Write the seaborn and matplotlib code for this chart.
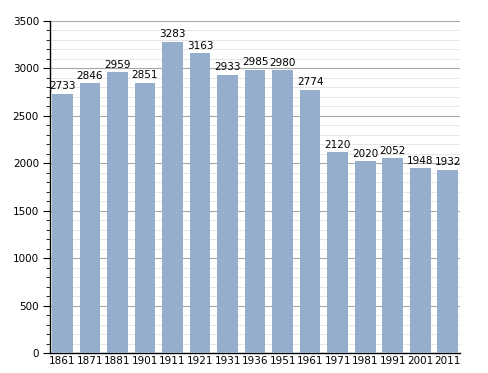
import matplotlib
matplotlib.use("Agg")
import matplotlib.pyplot as plt
import seaborn as sns
import pandas as pd
from matplotlib.ticker import MultipleLocator

# Population by census year
years = ["1861", "1871", "1881", "1901", "1911", "1921", "1931", "1936",
         "1951", "1961", "1971", "1981", "1991", "2001", "2011"]
population = [2733, 2846, 2959, 2851, 3283, 3163, 2933, 2985,
              2980, 2774, 2120, 2020, 2052, 1948, 1932]

df = pd.DataFrame({"year": years, "pop": population})

sns.set_style("white")
plt.rcParams["font.family"] = ["DejaVu Sans"]
plt.rcParams["text.color"] = "black"
plt.rcParams["xtick.color"] = "black"
plt.rcParams["ytick.color"] = "black"

fig = plt.figure(figsize=(4.88, 3.73), dpi=100)
ax = fig.add_axes([0.1025, 0.0536, 0.8405, 0.8901])

sns.barplot(data=df, x="year", y="pop", color="#94aecb", saturation=1,
            width=0.75, linewidth=0, ax=ax, zorder=3)

for i, v in enumerate(population):
    ax.text(i, v + 25, str(v), ha="center", va="bottom", fontsize=7.5,
            color="black", zorder=4)

ax.set_ylim(0, 3500)
ax.set_xlim(-0.45, len(years) - 0.55)
ax.yaxis.set_major_locator(MultipleLocator(500))
ax.yaxis.set_minor_locator(MultipleLocator(100))
ax.grid(which="major", axis="y", color="#a8a8a8", linewidth=0.8, zorder=0)
ax.grid(which="minor", axis="y", color="#e6e6e6", linewidth=0.7, zorder=0)
ax.set_axisbelow(True)

for s in ["top", "right"]:
    ax.spines[s].set_visible(False)
ax.spines["left"].set_color("black")
ax.spines["bottom"].set_color("black")
ax.spines["left"].set_linewidth(1)
ax.spines["bottom"].set_linewidth(1)

ax.tick_params(axis="y", which="major", length=5, width=0.8, direction="out",
               left=True, labelsize=7.5, pad=3)
ax.tick_params(axis="y", which="minor", length=3, width=0.6, direction="out", left=True)
ax.tick_params(axis="x", length=0, labelsize=7.5, pad=2)
ax.set_xlabel("")
ax.set_ylabel("")

fig.savefig("out.png", dpi=100)
